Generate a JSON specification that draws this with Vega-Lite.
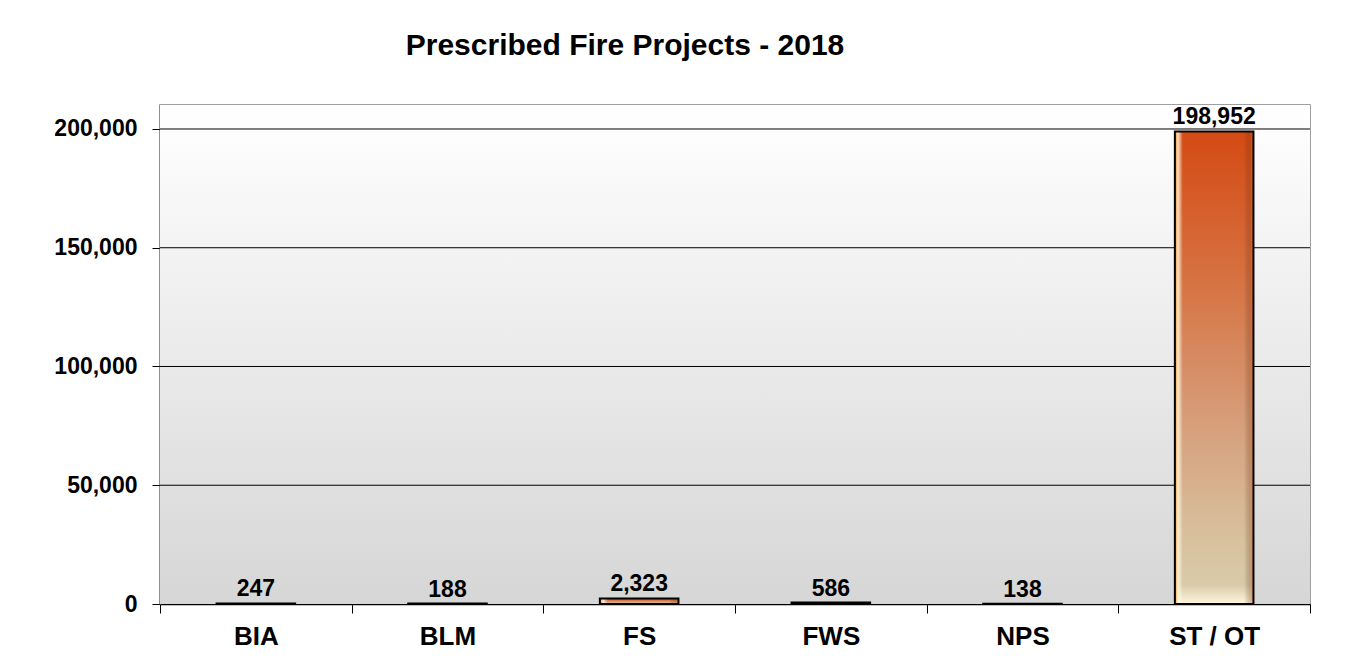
{
  "$schema": "https://vega.github.io/schema/vega-lite/v6.json",
  "width": 1150,
  "height": 499,
  "autosize": {"type": "none"},
  "padding": {"left": 160, "top": 105, "right": 35, "bottom": 66},
  "background": "white",
  "title": {
    "text": "Prescribed  Fire Projects  - 2018",
    "font": "Liberation Sans",
    "fontSize": 30,
    "fontWeight": "bold",
    "color": "black",
    "anchor": "middle",
    "frame": "group",
    "dx": -110,
    "baseline": "alphabetic",
    "offset": 20
  },
  "config": {
    "view": {"stroke": "#808080", "strokeWidth": 1.5}
  },
  "datasets": {
    "fire": [
      {"agency": "BIA", "acres": 247},
      {"agency": "BLM", "acres": 188},
      {"agency": "FS", "acres": 2323},
      {"agency": "FWS", "acres": 586},
      {"agency": "NPS", "acres": 138},
      {"agency": "ST / OT", "acres": 198952}
    ],
    "grid": [
      {"v": 50000}, {"v": 100000}, {"v": 150000}, {"v": 200000}
    ],
    "bg": [{"lo": 0, "hi": 210100}]
  },
  "layer": [
    {
      "data": {"name": "bg"},
      "mark": {
        "type": "rect",
        "color": {
          "gradient": "linear", "x1": 0, "y1": 0, "x2": 0, "y2": 1,
          "stops": [
            {"offset": 0, "color": "#ffffff"},
            {"offset": 1, "color": "#d6d6d6"}
          ]
        }
      },
      "encoding": {
        "x": {"value": 0},
        "x2": {"value": "width"},
        "y": {"field": "lo", "type": "quantitative", "scale": {"domain": [0, 210100], "nice": false}},
        "y2": {"field": "hi"}
      }
    },
    {
      "data": {"name": "grid"},
      "mark": {"type": "rule", "color": "black", "strokeWidth": 1},
      "encoding": {
        "y": {"field": "v", "type": "quantitative"}
      }
    },
    {
      "data": {"name": "fire"},
      "mark": {
        "type": "bar",
        "width": {"band": 0.41},
        "color": {
          "gradient": "linear", "x1": 0, "y1": 0, "x2": 0, "y2": 1,
          "stops": [
            {"offset": 0, "color": "#d44a14"},
            {"offset": 0.3, "color": "#d6703f"},
            {"offset": 0.6, "color": "#d69c78"},
            {"offset": 0.85, "color": "#d8bf9c"},
            {"offset": 0.96, "color": "#d9caa8"},
            {"offset": 1, "color": "#fff6de"}
          ]
        }
      },
      "encoding": {
        "x": {
          "field": "agency", "type": "nominal", "sort": null,
          "scale": {"paddingInner": 0, "paddingOuter": 0},
          "axis": {
            "title": null,
            "labelAngle": 0,
            "labelFont": "Liberation Sans",
            "labelFontSize": 26,
            "labelFontWeight": "bold",
            "labelColor": "black",
            "labelPadding": 10,
            "tickBand": "extent",
            "tickSize": 9,
            "tickColor": "black",
            "domainColor": "black",
            "domainWidth": 1.5,
            "grid": false
          }
        },
        "y": {
          "field": "acres", "type": "quantitative",
          "axis": {
            "title": null,
            "values": [0, 50000, 100000, 150000, 200000],
            "format": ",d",
            "labelFont": "Liberation Sans",
            "labelFontSize": 23,
            "labelFontWeight": "bold",
            "labelColor": "black",
            "labelPadding": 15,
            "tickSize": 8,
            "tickColor": "black",
            "domainColor": "#606060",
            "domainWidth": 1.5,
            "grid": false
          }
        }
      }
    },
    {
      "data": {"name": "fire"},
      "mark": {
        "type": "bar",
        "width": {"band": 0.41},
        "stroke": "black",
        "strokeWidth": 2,
        "color": {
          "gradient": "linear", "x1": 0, "y1": 0, "x2": 1, "y2": 0,
          "stops": [
            {"offset": 0, "color": "rgba(255,140,40,0.9)"},
            {"offset": 0.04, "color": "rgba(255,250,215,0.85)"},
            {"offset": 0.1, "color": "rgba(255,255,255,0)"},
            {"offset": 0.88, "color": "rgba(0,0,0,0)"},
            {"offset": 0.95, "color": "rgba(110,50,20,0.25)"},
            {"offset": 1, "color": "rgba(255,120,40,0.6)"}
          ]
        }
      },
      "encoding": {
        "x": {"field": "agency", "type": "nominal", "sort": null},
        "y": {"field": "acres", "type": "quantitative"}
      }
    },
    {
      "data": {"name": "fire"},
      "mark": {
        "type": "text",
        "font": "Liberation Sans",
        "fontSize": 23,
        "fontWeight": "bold",
        "color": "black",
        "baseline": "alphabetic",
        "dy": -7
      },
      "encoding": {
        "x": {"field": "agency", "type": "nominal", "sort": null},
        "y": {"field": "acres", "type": "quantitative"},
        "text": {"field": "acres", "type": "quantitative", "format": ",d"}
      }
    }
  ]
}
